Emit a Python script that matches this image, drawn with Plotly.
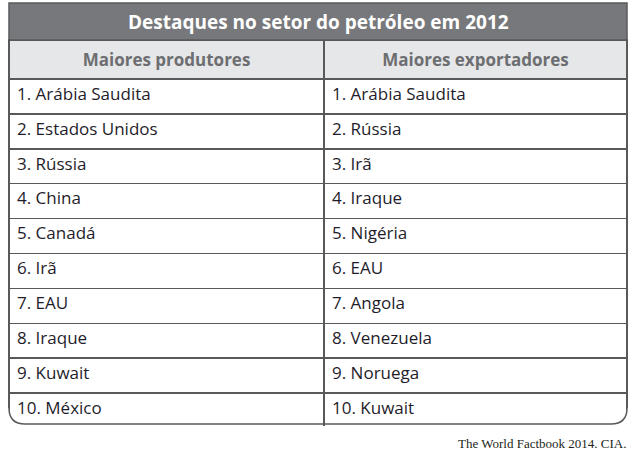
import plotly.graph_objects as go

# table content
title = 'Destaques no setor do petróleo em 2012'
col_headers = ['Maiores produtores', 'Maiores exportadores']
producers = ['1. Arábia Saudita', '2. Estados Unidos', '3. Rússia', '4. China', '5. Canadá',
             '6. Irã', '7. EAU', '8. Iraque', '9. Kuwait', '10. México']
exporters = ['1. Arábia Saudita', '2. Rússia', '3. Irã', '4. Iraque', '5. Nigéria',
             '6. EAU', '7. Angola', '8. Venezuela', '9. Noruega', '10. Kuwait']
source = 'The World Factbook 2014. CIA.'

W, H = 635, 452
LINE = '#58595b'


def px_x(v):
    return v / W


def px_y(v):
    return 1 - v / H


left, right, top, band_bottom, bottom = 9, 627, 3, 40, 424

fig = go.Figure(go.Table(
    domain={'x': [px_x(left), px_x(right)], 'y': [px_y(bottom + 2), px_y(band_bottom)]},
    columnwidth=[315, 303],
    header=dict(
        values=[f'<b>{h}</b>' for h in col_headers],
        fill_color='#e6e7e8',
        line=dict(color=LINE, width=1.5),
        align='center',
        height=35,
        font=dict(family='Open Sans', size=17, color='#6d6e71'),
    ),
    cells=dict(
        values=[producers, exporters],
        fill_color='white',
        line=dict(color=LINE, width=1.5),
        align='left',
        height=34.9,
        font=dict(family='Open Sans', size=17, color='#1f1d2b'),
    ),
))

# title band
fig.add_shape(type='rect', xref='paper', yref='paper',
              x0=px_x(left), x1=px_x(right), y0=px_y(band_bottom), y1=px_y(top),
              fillcolor='#77787b', line=dict(color=LINE, width=1.5), layer='above')
fig.add_annotation(text=f'<b>{title}</b>', xref='paper', yref='paper',
                   x=0.5 * (px_x(left) + px_x(right)), y=px_y((top + band_bottom) / 2),
                   xanchor='center', yanchor='middle', showarrow=False,
                   font=dict(family='Open Sans', size=19, color='white'))

# rounded bottom corners + bottom edge
r = 16
for cx, sgn in [(left, 1), (right, -1)]:
    outer = (f'M {px_x(cx - sgn * 2)},{px_y(bottom - r)} L {px_x(cx - sgn * 2)},{px_y(bottom + 3)} '
             f'L {px_x(cx + sgn * r)},{px_y(bottom + 3)} L {px_x(cx + sgn * r)},{px_y(bottom)} '
             f'Q {px_x(cx)},{px_y(bottom)} {px_x(cx)},{px_y(bottom - r)} Z')
    fig.add_shape(type='path', xref='paper', yref='paper', path=outer,
                  fillcolor='white', line=dict(width=0), layer='above')
    arc = (f'M {px_x(cx)},{px_y(bottom - r)} '
           f'Q {px_x(cx)},{px_y(bottom)} {px_x(cx + sgn * r)},{px_y(bottom)}')
    fig.add_shape(type='path', xref='paper', yref='paper', path=arc,
                  line=dict(color=LINE, width=1.5), layer='above')
fig.add_shape(type='line', xref='paper', yref='paper',
              x0=px_x(left + r), x1=px_x(right - r), y0=px_y(bottom), y1=px_y(bottom),
              line=dict(color=LINE, width=1.5), layer='above')

fig.add_annotation(text=source, xref='paper', yref='paper',
                   x=px_x(right + 1), y=px_y(443), xanchor='right', yanchor='middle',
                   showarrow=False,
                   font=dict(family='Liberation Serif', size=13, color='#231f20'))

fig.update_layout(width=W, height=H, margin=dict(l=0, r=0, t=0, b=0),
                  paper_bgcolor='white', plot_bgcolor='white')

fig.write_html('out.html', config={'displayModeBar': False},
               post_script="document.body.style.margin='0';")
